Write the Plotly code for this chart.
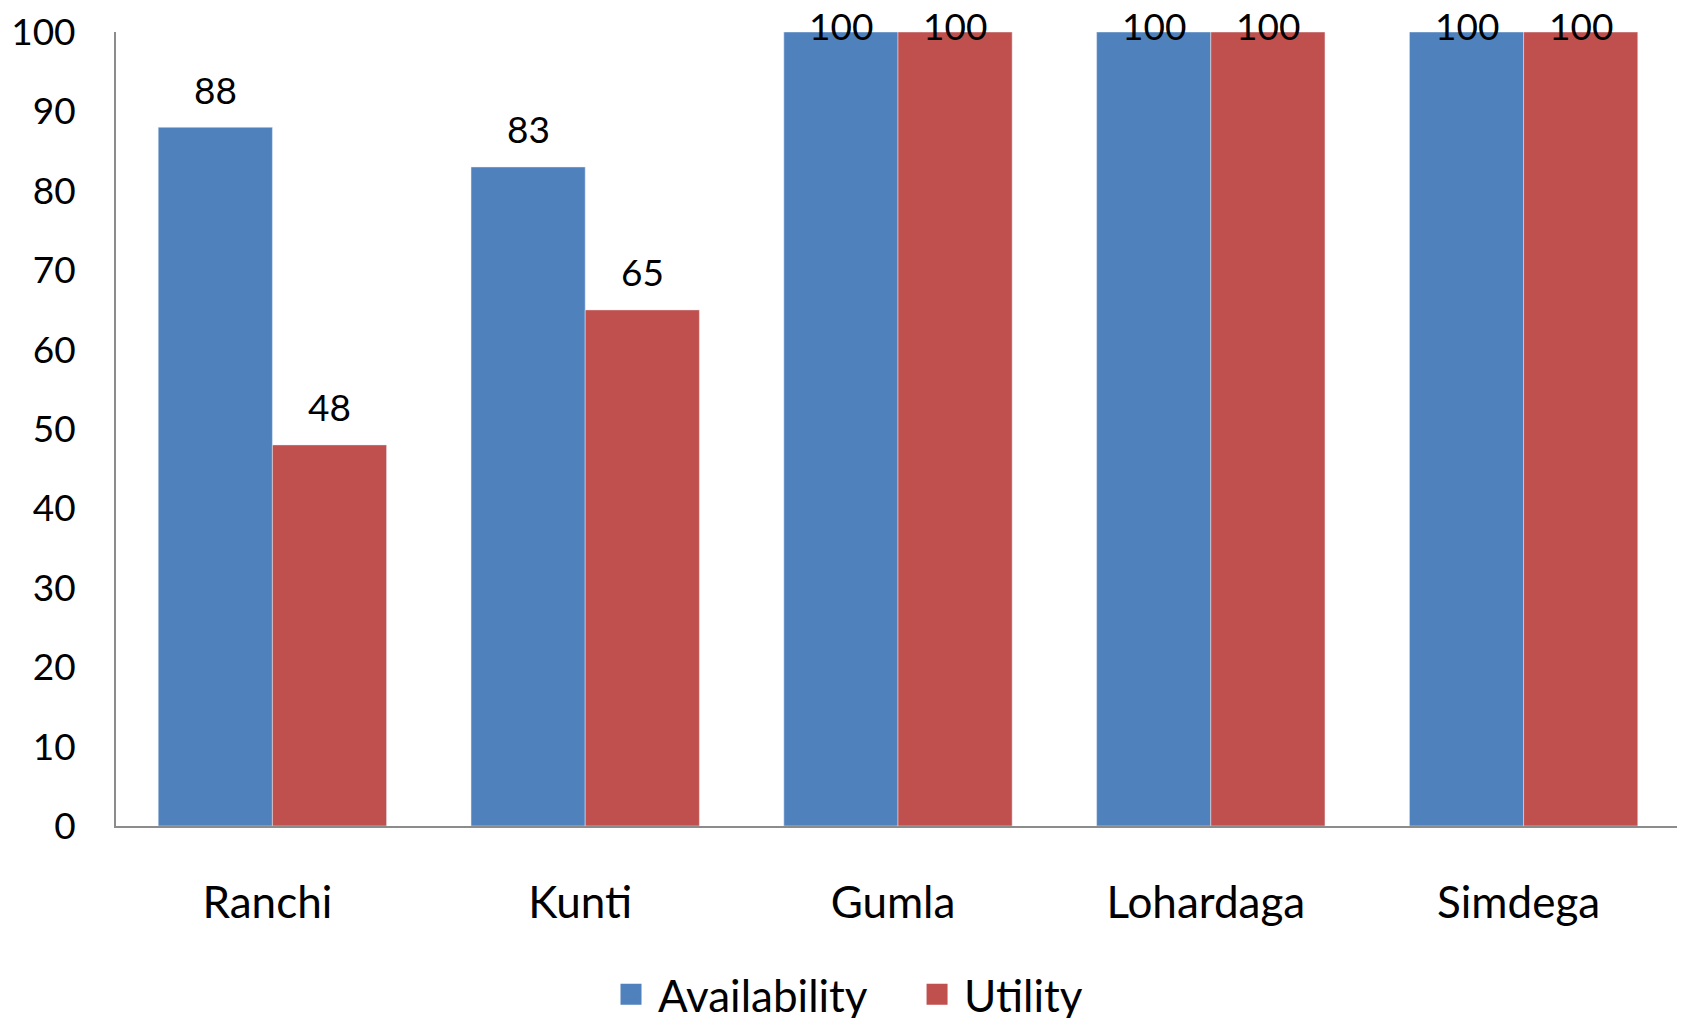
import plotly.graph_objects as go

districts = ["Ranchi", "Kunti", "Gumla", "Lohardaga", "Simdega"]
availability = [88, 83, 100, 100, 100]
utility = [48, 65, 100, 100, 100]
y_ticks = [0, 10, 20, 30, 40, 50, 60, 70, 80, 90, 100]

FONT = "Lato"
BLUE = "#4F81BD"
RED = "#C0504D"
AXIS = "#8C8C8C"

# page body adds 8px offset; compensate so the plot area matches the reference
W, H = 1685 - 8, 1018 - 8
M_L, M_R, M_T, M_B = 108, 5, 24, 192
BARGAP = 0.27
plot_h = H - M_T - M_B
px_per_unit = plot_h / 100.0

fig = go.Figure()
fig.add_trace(go.Bar(name="Availability", x=districts, y=availability,
                     marker_color=BLUE, showlegend=False))
fig.add_trace(go.Bar(name="Utility", x=districts, y=utility,
                     marker_color=RED, showlegend=False))
# legend entries with large square swatches, one legend each for exact spacing
for name, col, lg in (("Availability", BLUE, "legend"), ("Utility", RED, "legend2")):
    fig.add_trace(go.Scatter(name=name, x=[None], y=[None], mode="markers",
                             marker=dict(symbol="square", size=16, color=col,
                                         line=dict(color=col, width=5)),
                             showlegend=True, hoverinfo="skip", legend=lg))

# data labels above bars (kept inside the top like Excel does)
half = (1 - BARGAP) / 4.0
annotations = []
for i in range(len(districts)):
    for off, vals in ((-half, availability), (half, utility)):
        v = vals[i]
        shift = min(38, (100 - v) * px_per_unit + 7)
        annotations.append(dict(
            x=i + off, y=v, xref="x", yref="y", text=str(v), showarrow=False,
            yanchor="middle", yshift=shift,
            font=dict(family=FONT, size=37, color="#000000")))

legend_common = dict(orientation="h", xref="container", yref="container",
                     xanchor="left", y=0.023, yanchor="middle",
                     font=dict(family=FONT, size=44, color="#000000"),
                     itemwidth=44, bgcolor="rgba(0,0,0,0)")

fig.update_layout(
    width=W, height=H,
    margin=dict(l=M_L, r=M_R, t=M_T, b=M_B, autoexpand=False),
    paper_bgcolor="white", plot_bgcolor="white",
    barmode="group", bargap=BARGAP, bargroupgap=0,
    font=dict(family=FONT, size=37, color="#000000"),
    showlegend=True,
    legend=dict(x=0.3554, **legend_common),
    legend2=dict(x=0.5379, **legend_common),
    annotations=annotations,
)
fig.update_xaxes(type="category", showline=True, linecolor=AXIS, linewidth=2,
                 showgrid=False, ticks="", ticklabelstandoff=37, ticklabelshift=-5,
                 automargin=False,
                 tickfont=dict(family=FONT, size=44, color="#000000"))
fig.update_yaxes(range=[0, 100], tickvals=y_ticks, showline=True, linecolor=AXIS,
                 linewidth=2, showgrid=False, zeroline=False, ticks="",
                 ticklabelstandoff=31, ticklabeloverflow="allow", automargin=False,
                 tickfont=dict(family=FONT, size=37, color="#000000"))

fig.write_html("out.html")
